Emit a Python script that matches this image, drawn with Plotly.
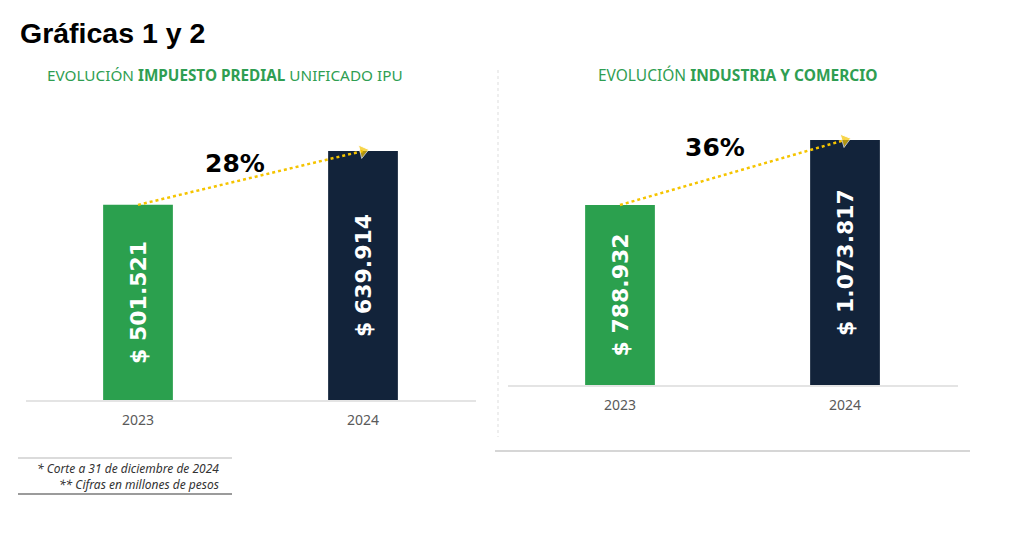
import plotly.graph_objects as go

# ---------- datos ----------
years = ["2023", "2024"]
predial = [501521, 639914]
predial_text = ["$ 501.521", "$ 639.914"]
ica = [788932, 1073817]
ica_text = ["$ 788.932", "$ 1.073.817"]
growth = ["28%", "36%"]

# ---------- estilos ----------
W, H = 1033, 540
OFF = 8  # margen del <body> en la página
GREEN = "#2ba04e"
NAVY = "#12233a"
GOLD = "#f5c400"
TITLE_GREEN = "#2f9e52"
BAR_COLORS = [GREEN, NAVY]


def px(x):
    return (x - OFF) / W


def py(y):
    return 1 - (y - OFF) / H


fig = go.Figure()

# barras
for vals, txt, xa, ya in [(predial, predial_text, "x", "y"), (ica, ica_text, "x2", "y2")]:
    fig.add_trace(go.Bar(
        x=years, y=vals, text=txt,
        xaxis=xa, yaxis=ya,
        width=0.31,
        marker=dict(color=BAR_COLORS, line=dict(width=0)),
        textposition="inside", insidetextanchor="middle", textangle=-90,
        textfont=dict(family="DejaVu Sans", size=22, color="white", weight="bold"),
        hoverinfo="skip",
    ))
    # flecha punteada
    fig.add_trace(go.Scatter(
        x=years, y=vals, xaxis=xa, yaxis=ya,
        mode="lines+markers",
        line=dict(color=GOLD, width=2.5, dash="dot"),
        marker=dict(symbol="triangle-up", size=[0, 12], color=GOLD,
                    angleref="previous"),
        cliponaxis=False, hoverinfo="skip",
    ))

tick_font = dict(family="Noto Sans", size=14, color="#5a5a5a")
fig.update_layout(
    width=W, height=H,
    margin=dict(l=0, r=0, t=0, b=0),
    paper_bgcolor="white", plot_bgcolor="white",
    showlegend=False,
    font=dict(family="Noto Sans", color="#555555"),
    xaxis=dict(domain=[px(25.5), px(475.5)], type="category", range=[-0.5, 1.5],
               showgrid=False, showline=True, linecolor="#e4e4e4", linewidth=1.5,
               ticks="", ticklabelstandoff=6, tickfont=tick_font,
               anchor="y", fixedrange=True, automargin=False),
    yaxis=dict(domain=[py(400), py(100)], range=[0, 770976], visible=False,
               anchor="x", fixedrange=True),
    xaxis2=dict(domain=[px(507.5), px(957.5)], type="category", range=[-0.5, 1.5],
                showgrid=False, showline=True, linecolor="#e4e4e4", linewidth=1.5,
                ticks="", ticklabelstandoff=6, tickfont=tick_font,
                anchor="y2", fixedrange=True, automargin=False),
    yaxis2=dict(domain=[py(385), py(100)], range=[0, 1249135], visible=False,
                anchor="x2", fixedrange=True),
)


def note(x, y, text, size, color, family="Noto Sans", xanchor="center", **kw):
    fig.add_annotation(x=px(x), y=py(y), xref="paper", yref="paper",
                       xanchor=xanchor, yanchor="middle", text=text, showarrow=False,
                       font=dict(family=family, size=size, color=color, **kw))


# porcentajes de crecimiento
fig.add_annotation(x=0.43, y=609000, xref="x", yref="y", text="<b>" + growth[0] + "</b>",
                   xanchor="center", yanchor="middle", showarrow=False,
                   font=dict(family="DejaVu Sans", size=25, color="black"))
fig.add_annotation(x=0.42, y=1038800, xref="x2", yref="y2", text="<b>" + growth[1] + "</b>",
                   xanchor="center", yanchor="middle", showarrow=False,
                   font=dict(family="DejaVu Sans", size=25, color="black"))

# títulos
note(18, 33, "<b>Gráficas 1 y 2</b>", 28.5, "black", family="Liberation Sans", xanchor="left")
note(225, 75, "EVOLUCIÓN <b>IMPUESTO PREDIAL</b> UNIFICADO IPU", 15.3, TITLE_GREEN)
note(738, 75, "EVOLUCIÓN <b>INDUSTRIA Y COMERCIO</b>", 15.5, TITLE_GREEN)

# notas al pie
note(221, 468, "<i>* Corte a 31 de diciembre de 2024</i>", 12, "#333333", xanchor="right")
note(221, 484, "<i>** Cifras en millones de pesos</i>", 12, "#333333", xanchor="right")

# líneas de marco
fig.add_shape(type="line", xref="paper", yref="paper", x0=px(18), x1=px(232),
              y0=py(458), y1=py(458), line=dict(color="#cfcfcf", width=1.5))
fig.add_shape(type="line", xref="paper", yref="paper", x0=px(18), x1=px(232),
              y0=py(494), y1=py(494), line=dict(color="#7a7a7a", width=1.5))
fig.add_shape(type="line", xref="paper", yref="paper", x0=px(498), x1=px(498),
              y0=py(70), y1=py(437), line=dict(color="#dddddd", width=1, dash="dot"))
fig.add_shape(type="line", xref="paper", yref="paper", x0=px(495), x1=px(970),
              y0=py(451), y1=py(451), line=dict(color="#d6d6d6", width=2))

fig.write_html("out.html")
